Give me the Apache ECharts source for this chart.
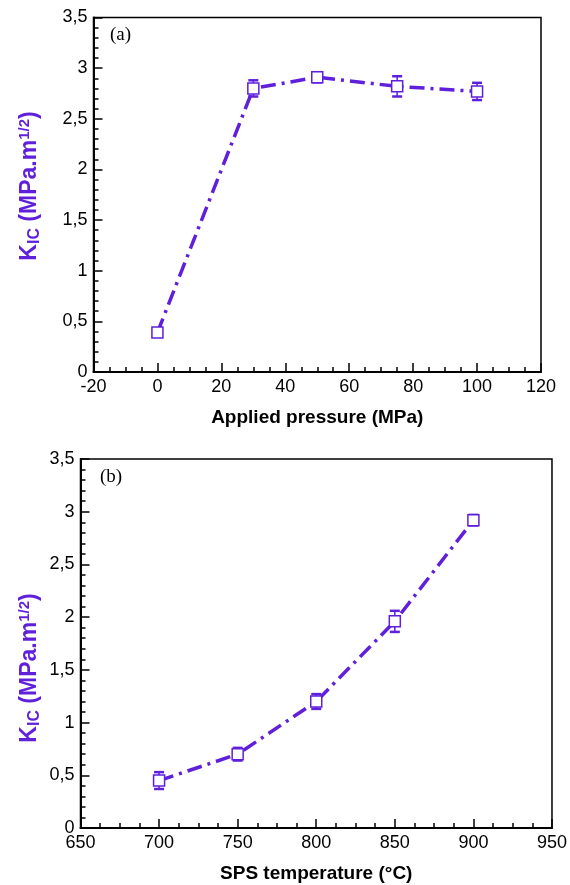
<!DOCTYPE html>
<html><head><meta charset="utf-8">
<script src="https://cdn.jsdelivr.net/npm/echarts@6/dist/echarts.min.js"></script>
<style>html,body{margin:0;padding:0;background:#fff}#c{width:570px;height:885px}</style>
</head><body><div id="c"></div>
<script>
// Panel (a): applied pressure
const pressure = [0, 30, 50, 75, 100];
const kicA = [0.39, 2.80, 2.91, 2.82, 2.77];
const errA = [0.02, 0.08, 0.05, 0.10, 0.085];
// Panel (b): SPS temperature
const temperature = [700, 750, 800, 850, 900];
const kicB = [0.45, 0.70, 1.20, 1.96, 2.92];
const errB = [0.08, 0.06, 0.07, 0.10, 0.05];

const xTitleA = 'Applied pressure (MPa)';
const xTitleB = 'SPS temperature (°C)';
const C = '#5f1fdb';

const chart = echarts.init(document.getElementById('c'));
const fmtY = v => String(v).replace('.', ',');
function yAxis(gi){
  return {gridIndex: gi, type:'value', min:0, max:3.5, interval:0.5,
    axisLine:{show:true, onZero:false, lineStyle:{color:'#000', width:2}},
    axisTick:{show:true, inside:true, length:9, lineStyle:{color:'#000', width:1.5}},
    minorTick:{show:true, splitNumber:5, length:5, lineStyle:{color:'#000', width:1.5}},
    splitLine:{show:false},
    axisLabel:{formatter:fmtY, color:'#000', fontSize:18, fontFamily:'Liberation Sans', margin:6}};
}
function xAxis(gi, min, max, interval, title){
  return {gridIndex: gi, type:'value', min, max, interval,
    axisLine:{show:true, onZero:false, lineStyle:{color:'#000', width:2}},
    axisTick:{show:true, inside:true, length:9, lineStyle:{color:'#000', width:1.5}},
    minorTick:{show:true, splitNumber:4, length:5, lineStyle:{color:'#000', width:1.5}},
    splitLine:{show:false},
    axisLabel:{color:'#000', fontSize:18, fontFamily:'Liberation Sans', margin:6},
    name:title, nameLocation:'middle', nameGap:36,
    nameTextStyle:{color:'#000', fontSize:19, fontWeight:'bold', fontFamily:'Liberation Sans'}};
}
function errSeries(xs, ys, es, xi, yi){
  return {type:'custom', xAxisIndex:xi, yAxisIndex:yi, z:3,
    data: xs.map((x,i)=>[x, ys[i]-es[i], ys[i]+es[i]]),
    renderItem:(params, api)=>{
      const lo = api.coord([api.value(0), api.value(1)]);
      const hi = api.coord([api.value(0), api.value(2)]);
      const w = 5;
      return {type:'group', children:[
        {type:'line', shape:{x1:lo[0], y1:lo[1], x2:hi[0], y2:hi[1]}, style:{stroke:C, lineWidth:1.5}},
        {type:'line', shape:{x1:lo[0]-w, y1:lo[1], x2:lo[0]+w, y2:lo[1]}, style:{stroke:C, lineWidth:2.5}},
        {type:'line', shape:{x1:hi[0]-w, y1:hi[1], x2:hi[0]+w, y2:hi[1]}, style:{stroke:C, lineWidth:2.5}}
      ]};
    }};
}
function lineSeries(xs, ys, xi, yi){
  return {type:'line', xAxisIndex:xi, yAxisIndex:yi, z:4,
    data: xs.map((x,i)=>[x, ys[i]]),
    symbol:'rect', symbolSize:11, showSymbol:true,
    itemStyle:{color:'#fff', borderColor:C, borderWidth:1.5},
    lineStyle:{color:C, width:3.5, type:[15,6,3,6]},
    animation:false};
}
const rich = {
  s:{fontSize:16, fontWeight:'bold', fill:C, fontFamily:'Liberation Sans', padding:[10,0,0,0]},
  p:{fontSize:15, fontWeight:'bold', fill:C, fontFamily:'Liberation Sans', padding:[0,0,10,0]}
};
const yTitle = 'K{s|IC} (MPa.m{p|1/2})';
chart.setOption({
  animation:false,
  grid:[
    {left:93.5, top:17.5, width:447.5, height:354.5, show:true, borderColor:'#000', borderWidth:1.5},
    {left:80.5, top:459, width:471.5, height:369, show:true, borderColor:'#000', borderWidth:1.5}
  ],
  xAxis:[xAxis(0,-20,120,20,xTitleA), xAxis(1,650,950,50,xTitleB)],
  yAxis:[yAxis(0), yAxis(1)],
  series:[
    errSeries(pressure, kicA, errA, 0, 0),
    lineSeries(pressure, kicA, 0, 0),
    errSeries(temperature, kicB, errB, 1, 1),
    lineSeries(temperature, kicB, 1, 1)
  ],
  graphic:[
    {type:'text', x:30, y:186, rotation:Math.PI/2,
      style:{text:yTitle, fill:C, font:'bold 23px "Liberation Sans"', align:'center', verticalAlign:'middle', rich}},
    {type:'text', x:30, y:668, rotation:Math.PI/2,
      style:{text:yTitle, fill:C, font:'bold 23px "Liberation Sans"', align:'center', verticalAlign:'middle', rich}},
    {type:'text', x:110, y:26, style:{text:'(a)', fill:'#000', font:'19px "Liberation Serif"'}},
    {type:'text', x:100, y:468, style:{text:'(b)', fill:'#000', font:'19px "Liberation Serif"'}}
  ]
});
</script></body></html>
